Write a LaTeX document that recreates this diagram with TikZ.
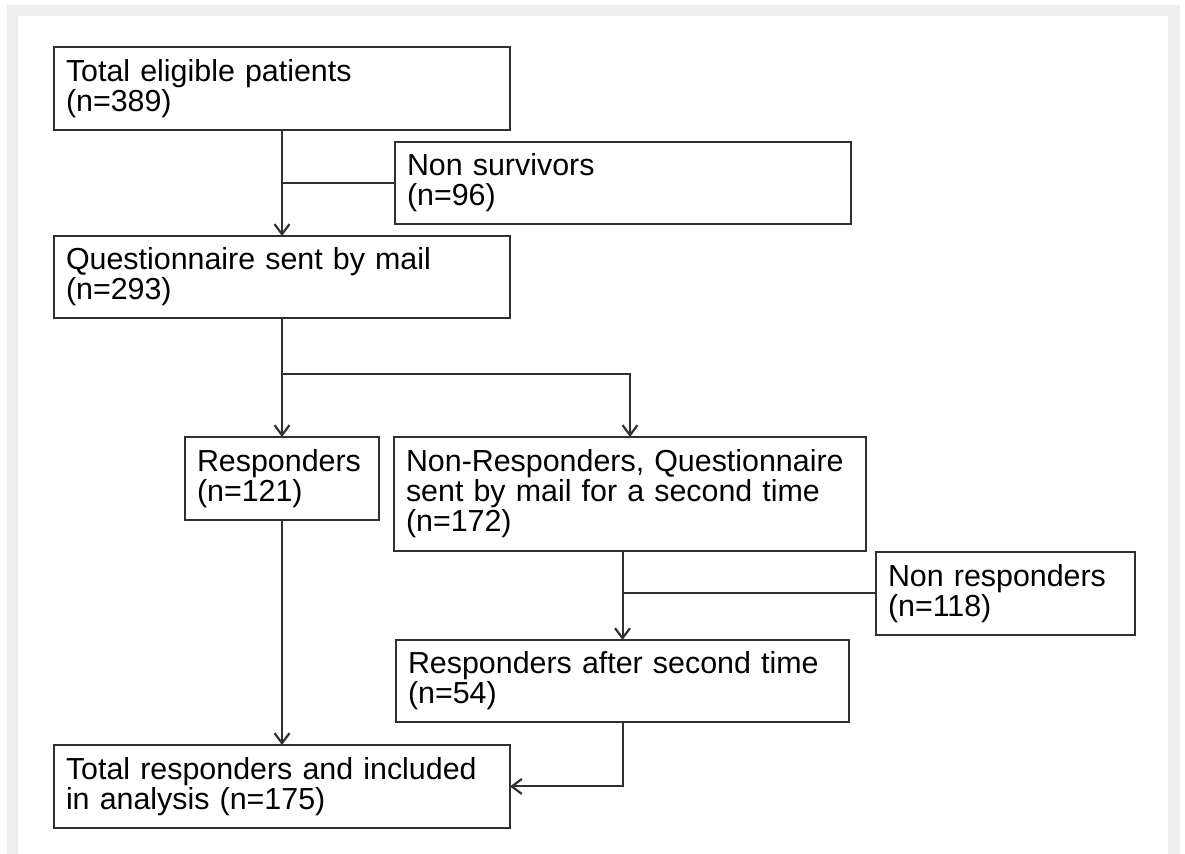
\documentclass[tikz,border=0pt]{standalone}
\usepackage{fontspec}
\setmainfont{Liberation Sans}
\usepackage{xcolor}
\usetikzlibrary{arrows.meta, positioning}
\definecolor{framegray}{HTML}{EEEEEE}
\definecolor{linegray}{HTML}{303030}

\begin{document}
\begin{tikzpicture}[node distance=0.3cm, line width=1pt]
    % Define styles
    \tikzstyle{box} = [draw=linegray, rectangle, line width=0.9pt, outer sep=0pt, inner xsep=6pt, inner ysep=0pt, align=left, font=\fontsize{15.2pt}{15pt}\selectfont]
    \tikzstyle{box41} = [box, minimum height=41.5pt]
    \tikzstyle{joinline} = [draw=linegray]
    \tikzstyle{flowarrow} = [joinline, -{Straight Barb[length=5pt, width=7.5pt, line width=1.1pt]}]

    % Frame
    \useasboundingbox (0,0) rectangle (592.5pt,-427pt);
    \fill[framegray] (3.5pt,-2.5pt) rectangle (590pt,-427pt);
    \fill[white] (9pt,-8pt) rectangle (584pt,-427pt);

    % Left column
    \node (eligible) [box41, text width=216pt, anchor=north west] at (27pt,-23.5pt) {Total eligible patients\\(n=389)};
    \node (mailed) [box, minimum height=41pt, text width=216pt, below=53pt of eligible] {Questionnaire sent by mail\\(n=293)};
    \node (resp) [box41, text width=85pt, below=59.5pt of mailed] {Responders\\(n=121)};
    \node (total) [box41, text width=216pt, below=112.5pt of resp] {Total responders and included\\in analysis (n=175)};

    % Right column
    \node (nonsurv) [box, minimum height=41pt, text width=216pt, anchor=north west] at (197.5pt,-71pt) {Non survivors\\(n=96)};
    \node (nonresp) [box, minimum height=57pt, text width=224pt, right=7.5pt of resp.north east, anchor=north west] {Non-Responders, Questionnaire\\sent by mail for a second time\\(n=172)};
    \node (nonresp2) [box41, text width=117.5pt, right=5pt of nonresp.south east, anchor=north west, yshift=-0.5pt] {Non responders\\(n=118)};
    \node (resp2) [box, minimum height=41pt, text width=214.5pt, below=44.5pt of nonresp.south west, anchor=north west, xshift=1pt] {Responders after second time\\(n=54)};

    % CONNECTIONS
    \draw[flowarrow] (eligible) -- (mailed);
    \draw[joinline] (nonsurv.west) -- (nonsurv.west -| eligible.south);
    \draw[flowarrow] (mailed) -- (resp);
    \draw[flowarrow] (mailed.south) -- ++(0,-28pt) -| (nonresp.north);
    \draw[flowarrow] (resp) -- (total);
    \draw[flowarrow] (nonresp.south -| resp2.north) -- (resp2.north);
    \draw[joinline] (nonresp2.west) -- (nonresp2.west -| resp2.north);
    \draw[flowarrow] (resp2.south) |- (total.east);

\end{tikzpicture}
\end{document}
